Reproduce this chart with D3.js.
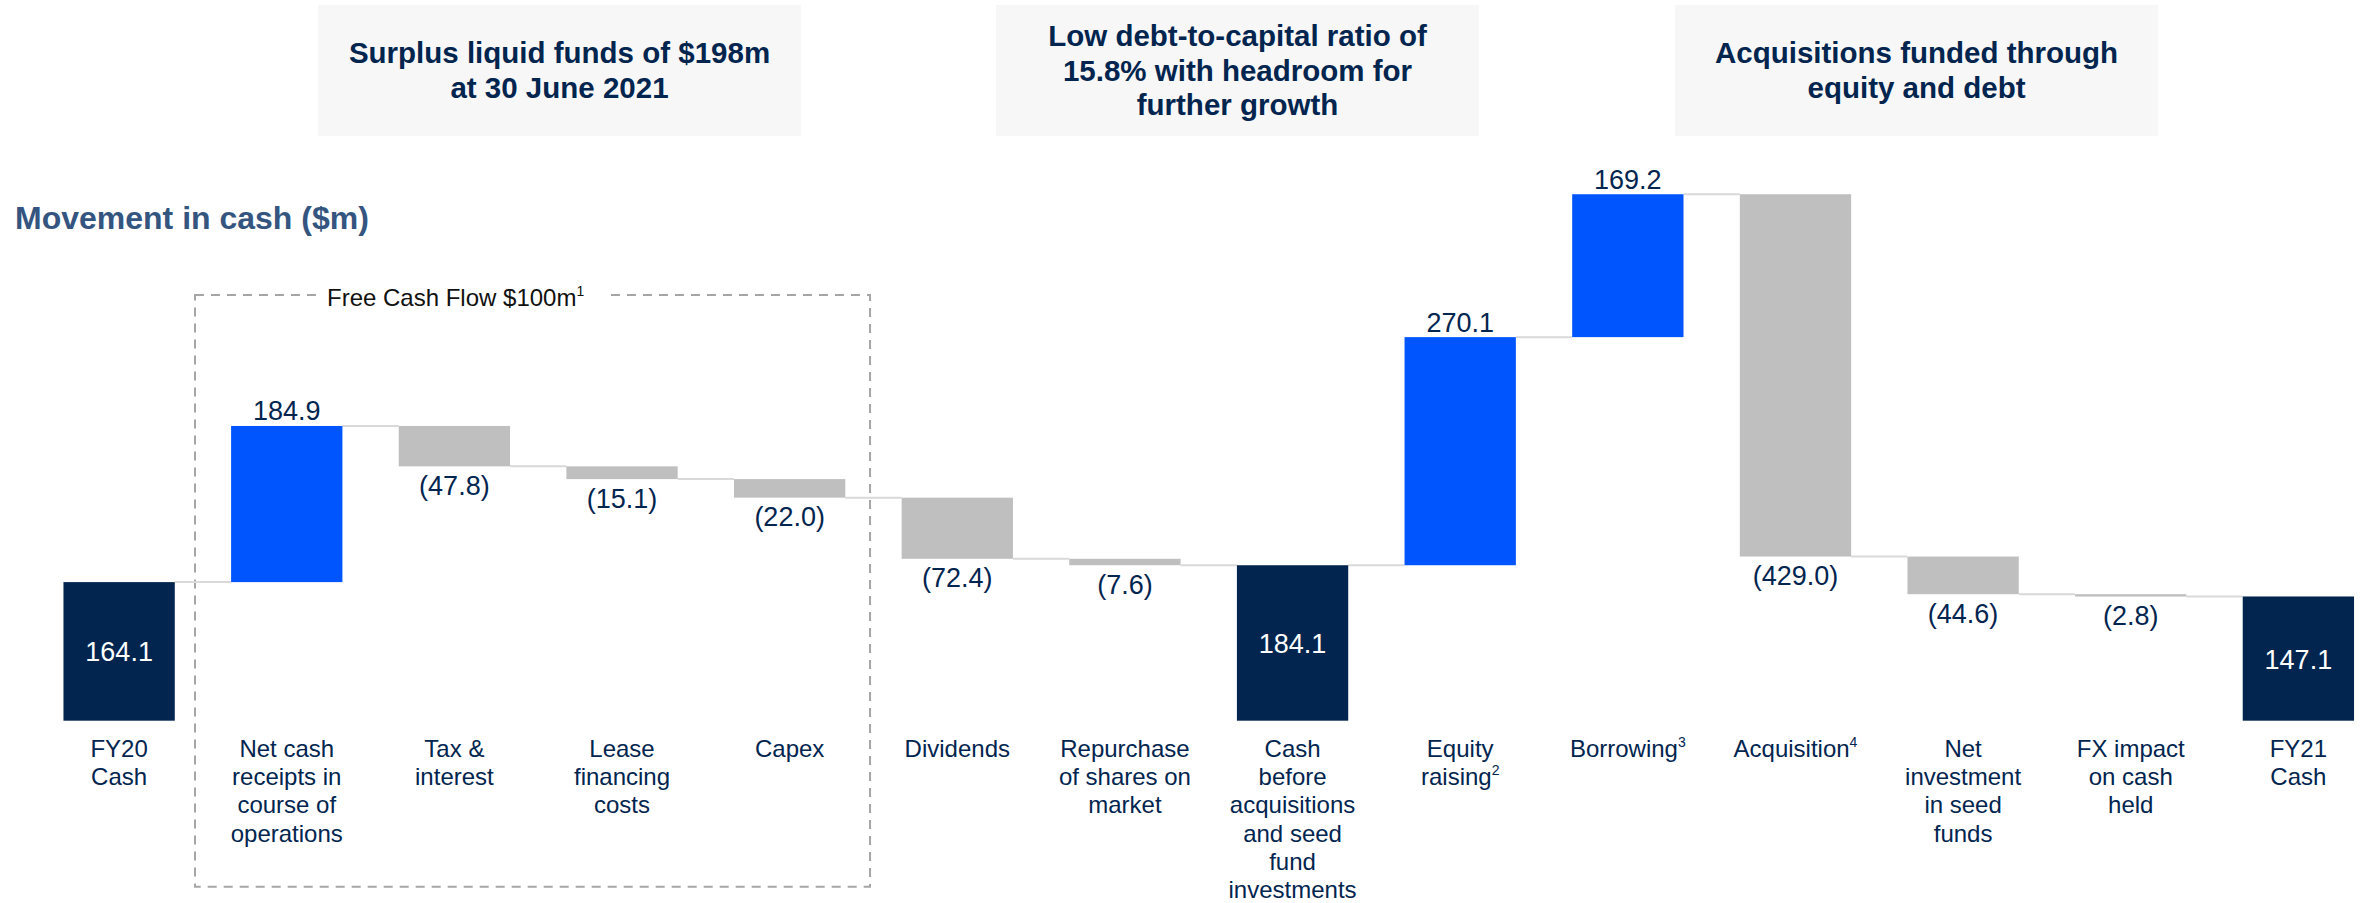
<!DOCTYPE html>
<html>
<head>
<meta charset="utf-8">
<script src="https://cdn.jsdelivr.net/npm/d3@7"></script>
<style>
  html, body { margin: 0; padding: 0; background: #ffffff; }
  svg { display: block; font-family: "Liberation Sans", Arial, sans-serif; }
</style>
</head>
<body>
<svg id="chart" width="2361" height="903"></svg>
<script>
// ---------------- DATA ----------------
const categories = [
  "FY20 Cash", "Net cash receipts", "Tax & interest", "Lease financing costs", "Capex",
  "Dividends", "Repurchase of shares", "Cash before acquisitions", "Equity raising",
  "Borrowing", "Acquisition", "Net investment in seed funds", "FX impact", "FY21 Cash"
];
const categoryLines = [
  ["FY20", "Cash"],
  ["Net cash", "receipts in", "course of", "operations"],
  ["Tax &", "interest"],
  ["Lease", "financing", "costs"],
  ["Capex"],
  ["Dividends"],
  ["Repurchase", "of shares on", "market"],
  ["Cash", "before", "acquisitions", "and seed", "fund", "investments"],
  ["Equity", "raising|2"],
  ["Borrowing|3"],
  ["Acquisition|4"],
  ["Net", "investment", "in seed", "funds"],
  ["FX impact", "on cash", "held"],
  ["FY21", "Cash"]
];
const values = [164.1, 184.9, -47.8, -15.1, -22.0, -72.4, -7.6, 184.1, 270.1, 169.2, -429.0, -44.6, -2.8, 147.1];
const barTypes = ["total", "up", "down", "down", "down", "down", "down", "total", "up", "up", "down", "down", "down", "total"];
const headerBoxes = [
  ["Surplus liquid funds of $198m", "at 30 June 2021"],
  ["Low debt-to-capital ratio of", "15.8% with headroom for", "further growth"],
  ["Acquisitions funded through", "equity and debt"]
];
const chartTitle = "Movement in cash ($m)";
const fcfLabel = "Free Cash Flow $100m";
const fcfSup = "1";

// ---------------- STYLE ----------------
const NAVY = "#02254f";
const BLUE = "#0055ff";
const GREY = "#bfbfbf";
const CONNECT = "#d9d9d9";

const svg = d3.select("#chart");

// scales
const x = d3.scaleBand().domain(categories).range([35.3, 2382.2]).paddingInner(0.336).paddingOuter(0.168);
const y = d3.scaleLinear().domain([0, 700]).range([720.7, 720.7 - 700 * 0.8445]);
const bw = x.bandwidth();

// compute waterfall
let running = 0;
const bars = values.map((v, i) => {
  let y0, y1;
  if (barTypes[i] === "total") { y0 = 0; y1 = v; running = v; }
  else { y0 = running; y1 = running + v; running = y1; }
  return { cat: categories[i], v, type: barTypes[i], lo: Math.min(y0, y1), hi: Math.max(y0, y1), end: running, lines: categoryLines[i] };
});

// header boxes
const boxX = [318, 996, 1675];
const boxW = 483;
headerBoxes.forEach((lines, i) => {
  const g = svg.append("g");
  g.append("rect").attr("x", boxX[i]).attr("y", 5).attr("width", boxW).attr("height", 131).attr("fill", "#f7f7f7");
  const lh = 34.5;
  const cy = 70.5;
  const start = cy - (lines.length - 1) * lh / 2;
  lines.forEach((t, j) => {
    g.append("text").attr("x", boxX[i] + boxW / 2).attr("y", start + j * lh + 10)
      .attr("text-anchor", "middle").attr("font-size", 29.5).attr("font-weight", "bold")
      .attr("fill", NAVY).text(t);
  });
});

// title
svg.append("text").attr("x", 15).attr("y", 229).attr("font-size", 32).attr("font-weight", "bold")
  .attr("fill", "#345580").text(chartTitle);

// dashed free-cash-flow box
svg.append("rect").attr("x", 195).attr("y", 295).attr("width", 675).attr("height", 591.7)
  .attr("fill", "none").attr("stroke", "#a6a6a6").attr("stroke-width", 2).attr("stroke-dasharray", "9,7");
svg.append("rect").attr("x", 316).attr("y", 285).attr("width", 288).attr("height", 20).attr("fill", "#ffffff");
const fcf = svg.append("text").attr("x", 327).attr("y", 306).attr("font-size", 24).attr("fill", "#111111");
fcf.append("tspan").text(fcfLabel);
fcf.append("tspan").attr("font-size", 14).attr("dy", -10).text(fcfSup);

// connectors
const conn = svg.append("g");
bars.forEach((b, i) => {
  if (i === bars.length - 1) return;
  conn.append("line")
    .attr("x1", x(b.cat) + bw).attr("x2", x(bars[i + 1].cat))
    .attr("y1", y(b.end)).attr("y2", y(b.end))
    .attr("stroke", CONNECT).attr("stroke-width", 2);
});

// bars
svg.append("g").selectAll("rect").data(bars).join("rect")
  .attr("x", d => x(d.cat)).attr("width", bw)
  .attr("y", d => y(d.hi)).attr("height", d => Math.max(1, y(d.lo) - y(d.hi)))
  .attr("fill", d => d.type === "total" ? NAVY : d.type === "up" ? BLUE : GREY);

// value labels
const fmt = d3.format(".1f");
bars.forEach(b => {
  const cx = x(b.cat) + bw / 2;
  const t = svg.append("text").attr("x", cx).attr("text-anchor", "middle").attr("font-size", 27);
  if (b.type === "total") {
    t.attr("y", (y(b.lo) + y(b.hi)) / 2 + 10).attr("fill", "#ffffff").text(fmt(b.v));
  } else if (b.type === "up") {
    t.attr("y", y(b.hi) - 5.5).attr("fill", NAVY).text(fmt(b.v));
  } else {
    t.attr("y", y(b.lo) + 28.5).attr("fill", NAVY).text("(" + fmt(-b.v) + ")");
  }
});

// category labels
bars.forEach(b => {
  const cx = x(b.cat) + bw / 2;
  b.lines.forEach((ln, j) => {
    const parts = ln.split("|");
    const t = svg.append("text").attr("x", cx).attr("y", 756.7 + j * 28.3)
      .attr("text-anchor", "middle").attr("font-size", 24).attr("fill", NAVY);
    t.append("tspan").text(parts[0]);
    if (parts[1]) t.append("tspan").attr("font-size", 14).attr("dy", -10).text(parts[1]);
  });
});
</script>
</body>
</html>
